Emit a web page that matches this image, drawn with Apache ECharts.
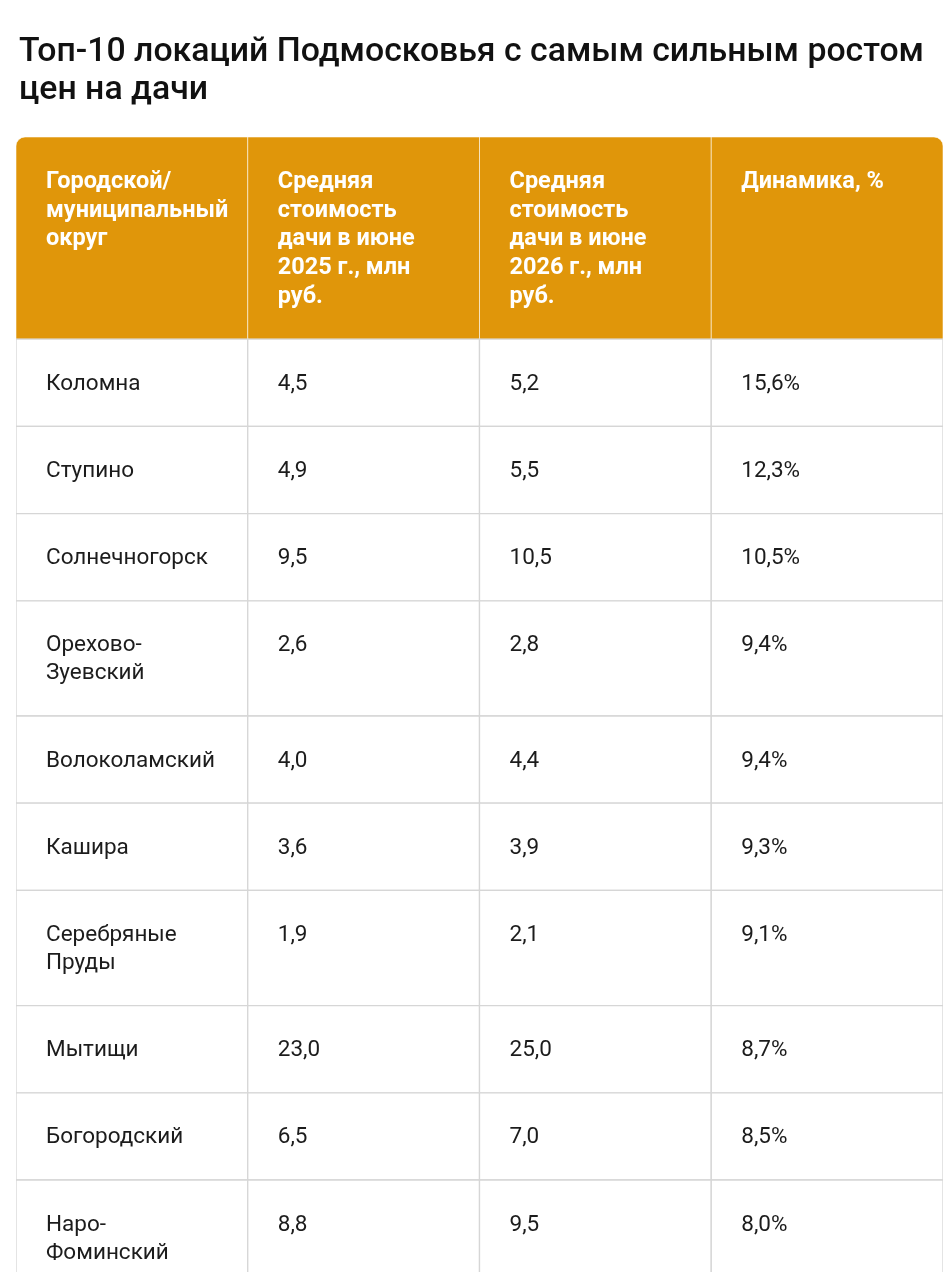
<!doctype html>
<html>
<head>
<meta charset="utf-8">
<title>Топ-10 локаций Подмосковья</title>
<script src="https://cdn.jsdelivr.net/npm/echarts@6/dist/echarts.min.js"></script>
<style>
  html, body { margin: 0; padding: 0; background: #fff; overflow: hidden; }
  #main { width: 952px; height: 1280px; }
</style>
</head>
<body>
<div id="main"></div>
<script>
// данные таблицы
var headers = [
  'Городской/\nмуниципальный\nокруг',
  'Средняя\nстоимость\nдачи в июне\n2025 г., млн\nруб.',
  'Средняя\nстоимость\nдачи в июне\n2026 г., млн\nруб.',
  'Динамика, %'
];
var districts = ['Коломна', 'Ступино', 'Солнечногорск', 'Орехово-\nЗуевский', 'Волоколамский',
  'Кашира', 'Серебряные\nПруды', 'Мытищи', 'Богородский', 'Наро-\nФоминский'];
var price2025 = [4.5, 4.9, 9.5, 2.6, 4.0, 3.6, 1.9, 23.0, 6.5, 8.8];
var price2026 = [5.2, 5.5, 10.5, 2.8, 4.4, 3.9, 2.1, 25.0, 7.0, 9.5];
var change = [15.6, 12.3, 10.5, 9.4, 9.4, 9.3, 9.1, 8.7, 8.5, 8.0];

var FONT = 'Roboto, "Noto Sans", sans-serif';
var HEAD_LH = 28.6, BODY_LH = 28, PAD_Y = 29, PAD_X = 30;

function fmt(v) { return v.toFixed(1).replace('.', ','); }
function lines(s) { return s.split('\n').length; }

// строки таблицы -> ячейки (высота строки считается по числу строк текста)
var rows = [{ head: true, texts: headers }];
districts.forEach(function (d, i) {
  rows.push({ head: false, texts: [d, fmt(price2025[i]), fmt(price2026[i]), fmt(change[i]) + '%'] });
});

var cells = [];
var rowTop = 0;
rows.forEach(function (r) {
  var n = Math.max.apply(null, r.texts.map(lines));
  var lh = r.head ? HEAD_LH : BODY_LH;
  var h = PAD_Y * 2 + 1.2 + n * lh;
  r.texts.forEach(function (t, c) {
    cells.push({ col: c, y0: rowTop, h: h, text: t, head: r.head, lh: lh });
  });
  rowTop += h;
});

function renderItem(params, api) {
  var cell = cells[params.dataIndex];
  var bandW = api.size([1, 0])[0];
  var p0 = api.coord([api.value(0), api.value(1)]);
  var p1 = api.coord([api.value(0), api.value(1) + api.value(2)]);
  var x = p0[0] - bandW / 2, y = p0[1], h = p1[1] - p0[1];
  var r = 0;
  if (cell.head && cell.col === 0) r = [9, 0, 0, 0];
  if (cell.head && cell.col === 3) r = [0, 9, 0, 0];
  return {
    type: 'group',
    children: [{
      type: 'rect',
      shape: { x: x, y: y, width: bandW, height: h, r: r },
      style: cell.head
        ? { fill: '#e0960a', stroke: 'rgba(255,255,255,0.55)', lineWidth: 1 }
        : { fill: '#fff', stroke: '#d6d6d6', lineWidth: 1.3 }
    }, {
      type: 'text',
      x: x + PAD_X,
      y: y + PAD_Y + 2,
      style: {
        text: cell.text,
        fill: cell.head ? '#fff' : '#1c1c1c',
        font: cell.head ? 'bold 23.5px ' + FONT : '22.5px ' + FONT,
        lineHeight: cell.lh,
        verticalAlign: 'top',
        align: 'left'
      }
    }]
  };
}

var chart = echarts.init(document.getElementById('main'));
chart.setOption({
  backgroundColor: '#fff',
  animation: false,
  title: {
    text: 'Топ-10 локаций Подмосковья с самым сильным ростом\nцен на дачи',
    left: 14,
    top: 29,
    textStyle: { fontFamily: FONT, fontSize: 33.8, fontWeight: 500, color: '#111', lineHeight: 38 }
  },
  grid: { left: 16, right: 9, top: 137, bottom: 8 },
  xAxis: { type: 'category', data: ['0', '1', '2', '3'], show: false },
  yAxis: { type: 'value', inverse: true, min: 0, max: 1135, show: false },
  series: [{
    type: 'custom',
    clip: true,
    renderItem: renderItem,
    data: cells.map(function (c) { return [c.col, c.y0, c.h]; })
  }]
});
</script>
</body>
</html>
